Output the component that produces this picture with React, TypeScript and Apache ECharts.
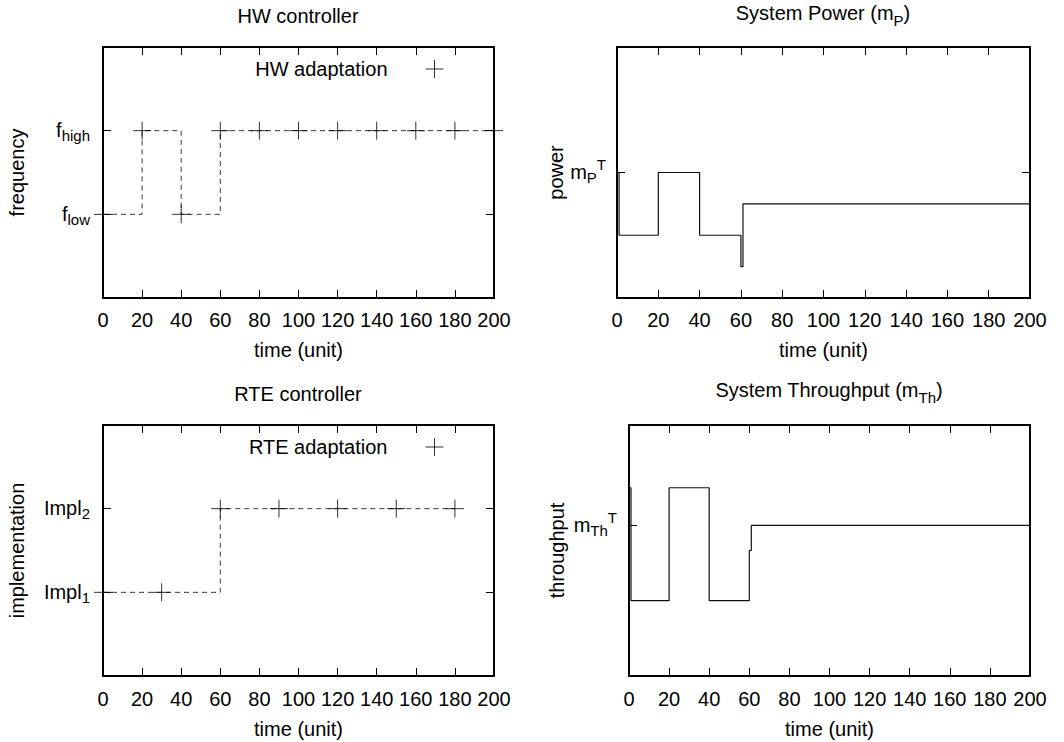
import React, { useEffect, useRef } from "react";
import * as echarts from "echarts";

// ---- data ----
const hwStepTimes = [0, 20, 40, 60, 200];
const hwStepLevels = [1, 2, 1, 2, 2];
const hwAdaptTimes = [0, 20, 40, 60, 80, 100, 120, 140, 160, 180, 200];
const hwAdaptLevels = [1, 2, 1, 2, 2, 2, 2, 2, 2, 2, 2];

const rteStepTimes = [0, 60, 180];
const rteStepLevels = [1, 2, 2];
const rteAdaptTimes = [0, 30, 60, 90, 120, 150, 180];
const rteAdaptLevels = [1, 1, 2, 2, 2, 2, 2];

const powerTimes = [0, 1, 20, 40, 60, 61, 200];
const powerValues = [4, 2, 4, 2, 1, 3, 3];
const powerTarget = 4;

const throughputTimes = [0, 1, 20, 40, 60, 61, 200];
const throughputValues = [15, 6, 15, 6, 10, 12, 12];
const throughputTarget = 12;

const hwTickLabels: Record<number, string> = { 1: "{m|f}{s|low}", 2: "{m|f}{s|high}" };
const rteTickLabels: Record<number, string> = { 1: "{m|Impl}{s|1}", 2: "{m|Impl}{s|2}" };
const powerTickLabels: Record<number, string> = { [powerTarget]: "{m|m}{s|P}{u|T}" };
const throughputTickLabels: Record<number, string> = { [throughputTarget]: "{m|m}{s|Th}{u|T}" };

const FONT = "'Liberation Sans', Arial, Helvetica, sans-serif";
const FS = 20;

const zip = (xs: number[], ys: number[]) => xs.map((x, i) => [x, ys[i]]);

const labelRich = {
  m: { fontSize: FS, fontFamily: FONT, color: "#000", padding: [5, 0, 0, 0], lineHeight: 25, verticalAlign: "top" },
  s: { fontSize: 15, fontFamily: FONT, color: "#000", padding: [13, 0, 3, 0], lineHeight: 31, verticalAlign: "top" },
  u: { fontSize: 15, fontFamily: FONT, color: "#000", lineHeight: 15, verticalAlign: "top" },
};

const titleRich = {
  t: { fontSize: FS, fontFamily: FONT, color: "#000", lineHeight: 20, verticalAlign: "top" },
  ts: { fontSize: 15, fontFamily: FONT, color: "#000", padding: [10, 0, 0, 0], lineHeight: 25, verticalAlign: "top" },
};

const PLUS = "path://M9,0L9,18M0,9L18,9";

type GridSpec = { left: number; top: number; width: number; height: number };
const grids: GridSpec[] = [
  { left: 103, top: 47, width: 391, height: 251 },
  { left: 617, top: 47, width: 413, height: 251 },
  { left: 103, top: 425, width: 391, height: 251 },
  { left: 629, top: 425, width: 401, height: 251 },
];

const yRanges = [
  { min: 0, max: 3, interval: 1, labels: hwTickLabels, name: "frequency", gap: 76 },
  { min: 0, max: 8, interval: 4, labels: powerTickLabels, name: "power", gap: 46 },
  { min: 0, max: 3, interval: 1, labels: rteTickLabels, name: "implementation", gap: 76 },
  { min: 0, max: 20, interval: 12, labels: throughputTickLabels, name: "throughput", gap: 62 },
];
const xLabelMargins = [12, 12, 13, 13];
const xNameGaps = [42, 42, 43, 43];
const yLabelMargins = [13, 11, 13, 12];

export default function App() {
  const ref = useRef<HTMLDivElement>(null);
  useEffect(() => {
    if (!ref.current) return;
    const chart = echarts.init(ref.current, undefined, { renderer: "svg" });

    const axisLine = { show: true, onZero: false, lineStyle: { color: "#000", width: 2 } };
    const axisTick = { show: true, inside: true, length: 8, lineStyle: { color: "#000", width: 1 } };

    const xAxis: any[] = [];
    const yAxis: any[] = [];
    grids.forEach((g, i) => {
      xAxis.push({
        type: "value", gridIndex: i, position: "bottom", min: 0, max: 200, interval: 20,
        axisLine, axisTick, splitLine: { show: false },
        axisLabel: { show: true, interval: 0, color: "#000", fontSize: FS, fontFamily: FONT, margin: xLabelMargins[i], showMinLabel: true, showMaxLabel: true },
        name: "time (unit)", nameLocation: "middle", nameGap: xNameGaps[i],
        nameTextStyle: { color: "#000", fontSize: FS, fontFamily: FONT },
      });
      xAxis.push({
        type: "value", gridIndex: i, position: "top", min: 0, max: 200, interval: 20,
        axisLine, axisTick, splitLine: { show: false }, axisLabel: { show: false },
      });
      const yr = yRanges[i];
      yAxis.push({
        type: "value", gridIndex: i, position: "left", min: yr.min, max: yr.max, interval: yr.interval,
        axisLine, axisTick, splitLine: { show: false },
        axisLabel: {
          show: true, margin: yLabelMargins[i], color: "#000", fontSize: FS, fontFamily: FONT,
          formatter: (v: number) => yr.labels[v] ?? "",
          rich: labelRich,
        },
        name: yr.name, nameLocation: "middle", nameGap: yr.gap,
        nameTextStyle: { color: "#000", fontSize: FS, fontFamily: FONT },
      });
      yAxis.push({
        type: "value", gridIndex: i, position: "right", min: yr.min, max: yr.max, interval: yr.interval,
        axisLine, axisTick, splitLine: { show: false }, axisLabel: { show: false },
      });
    });

    const dashed = { color: "#3a3a3a", width: 1, type: [5, 4] };
    const plusStyle = { color: "transparent", borderColor: "#000", borderWidth: 1 };

    const option: any = {
      animation: false,
      backgroundColor: "#fff",
      textStyle: { fontFamily: FONT },
      title: [
        { text: "HW controller", left: 298, top: 6, textAlign: "center", padding: 0, textStyle: { color: "#000", fontSize: FS, fontFamily: FONT, fontWeight: "normal" } },
        { text: "{t|System Power (m}{ts|P}{t|)}", left: 823, top: 3, textAlign: "center", padding: 0, textStyle: { color: "#000", fontSize: FS, fontFamily: FONT, fontWeight: "normal", rich: titleRich } },
        { text: "RTE controller", left: 298, top: 384, textAlign: "center", padding: 0, textStyle: { color: "#000", fontSize: FS, fontFamily: FONT, fontWeight: "normal" } },
        { text: "{t|System Throughput (m}{ts|Th}{t|)}", left: 829, top: 380, textAlign: "center", padding: 0, textStyle: { color: "#000", fontSize: FS, fontFamily: FONT, fontWeight: "normal", rich: titleRich } },
      ],
      legend: [
        {
          data: ["HW adaptation"], right: 620, top: 59, padding: 0, align: "right", orient: "horizontal",
          itemWidth: 18, itemHeight: 18, icon: PLUS, selectedMode: false,
          itemStyle: plusStyle,
          textStyle: { color: "#000", fontSize: FS, fontFamily: FONT, padding: [0, 33, 0, 0] },
        },
        {
          data: ["RTE adaptation"], right: 620, top: 437, padding: 0, align: "right", orient: "horizontal",
          itemWidth: 18, itemHeight: 18, icon: PLUS, selectedMode: false,
          itemStyle: plusStyle,
          textStyle: { color: "#000", fontSize: FS, fontFamily: FONT, padding: [0, 33, 0, 0] },
        },
      ],
      grid: grids.map((g) => ({ ...g, show: false, containLabel: false })),
      xAxis,
      yAxis,
      series: [
        {
          name: "HW level", type: "line", xAxisIndex: 0, yAxisIndex: 0, step: "end",
          data: zip(hwStepTimes, hwStepLevels), showSymbol: false, symbol: "none",
          lineStyle: dashed, itemStyle: { color: "#3a3a3a" }, silent: true, clip: false, z: 2,
        },
        {
          name: "HW adaptation", type: "scatter", xAxisIndex: 0, yAxisIndex: 0,
          data: zip(hwAdaptTimes, hwAdaptLevels), symbol: PLUS, symbolSize: 18,
          itemStyle: plusStyle, clip: false, z: 3,
        },
        {
          name: "Power", type: "line", xAxisIndex: 2, yAxisIndex: 2, step: "end",
          data: zip(powerTimes, powerValues), showSymbol: false, symbol: "none",
          lineStyle: { color: "#111", width: 1.2 }, itemStyle: { color: "#111" }, silent: true,
        },
        {
          name: "RTE level", type: "line", xAxisIndex: 4, yAxisIndex: 4, step: "end",
          data: zip(rteStepTimes, rteStepLevels), showSymbol: false, symbol: "none",
          lineStyle: dashed, itemStyle: { color: "#3a3a3a" }, silent: true, clip: false, z: 2,
        },
        {
          name: "RTE adaptation", type: "scatter", xAxisIndex: 4, yAxisIndex: 4,
          data: zip(rteAdaptTimes, rteAdaptLevels), symbol: PLUS, symbolSize: 18,
          itemStyle: plusStyle, clip: false, z: 3,
        },
        {
          name: "Throughput", type: "line", xAxisIndex: 6, yAxisIndex: 6, step: "end",
          data: zip(throughputTimes, throughputValues), showSymbol: false, symbol: "none",
          lineStyle: { color: "#111", width: 1.2 }, itemStyle: { color: "#111" }, silent: true,
        },
      ],
    };
    chart.setOption(option);
    return () => chart.dispose();
  }, []);

  return (
    <div
      ref={ref}
      style={{ position: "fixed", left: 0, top: 0, width: 1064, height: 742, background: "#fff" }}
    />
  );
}
